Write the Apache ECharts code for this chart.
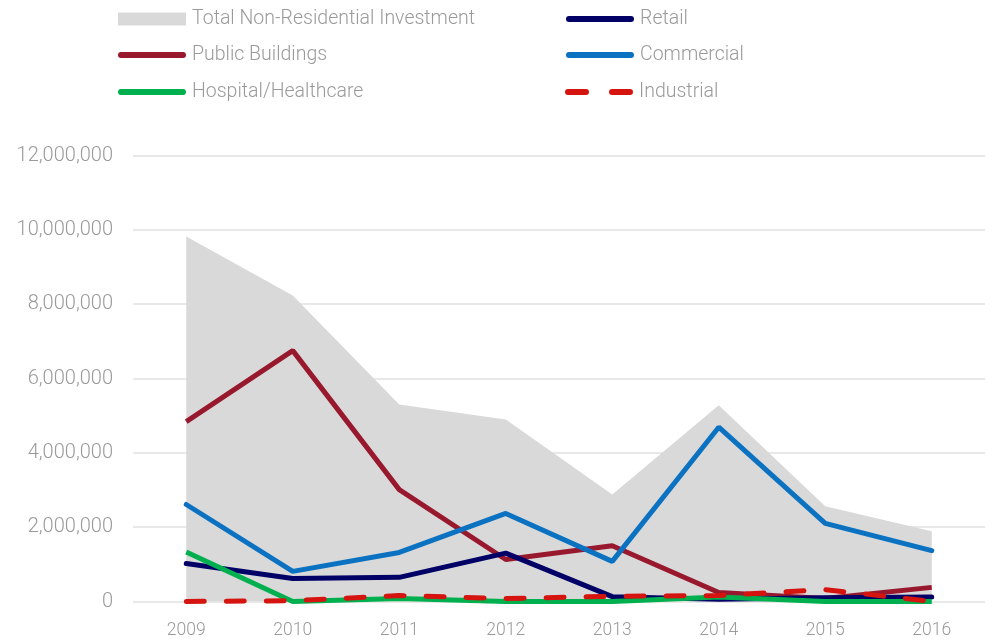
<!DOCTYPE html>
<html>
<head>
<meta charset="utf-8">
<script src="https://cdn.jsdelivr.net/npm/echarts@6/dist/echarts.min.js"></script>
<style>html,body{margin:0;padding:0;background:#fff}#c{width:993px;height:641px}</style>
</head>
<body>
<div id="c"></div>
<script>
const years = ['2009','2010','2011','2012','2013','2014','2015','2016'];
const total = [9820000, 8230000, 5300000, 4900000, 2880000, 5280000, 2560000, 1890000];
const publicBuildings = [4840000, 6750000, 3010000, 1130000, 1500000, 240000, 80000, 380000];
const commercial = [2610000, 810000, 1320000, 2370000, 1080000, 4690000, 2100000, 1370000];
const retail = [1020000, 620000, 650000, 1300000, 130000, 60000, 100000, 120000];
const hospital = [1330000, 0, 80000, 0, 0, 120000, 0, 0];
const industrial = [0, 20000, 160000, 80000, 140000, 160000, 320000, 0];
const yTicks = [0, 2000000, 4000000, 6000000, 8000000, 10000000, 12000000];

const font = 'Roboto';
const grey = '#9a9a9a';
const legendText = {color: grey, fontSize: 19.5, fontFamily: font, fontWeight: 300, padding: [0, 0, 0, 1]};
const lineIcon = 'path://M3,0 h62 a3,3 0 0 1 0,6 h-62 a3,3 0 0 1 0,-6z';
const dashIcon = 'path://M3,0 h18 a3,3 0 0 1 0,6 h-18 a3,3 0 0 1 0,-6z M47,0 h18 a3,3 0 0 1 0,6 h-18 a3,3 0 0 1 0,-6z';
function leg(name, left, top, icon, h) {
  return {data: [{name: name, icon: icon}], left: left, top: top, itemWidth: 68, itemHeight: h, itemGap: 0,
    textStyle: legendText, padding: 0, selectedMode: false};
}
const chart = echarts.init(document.getElementById('c'));
chart.setOption({
  animation: false,
  grid: {left: 133, right: 8, top: 155.5, bottom: 39.5},
  legend: [
    leg('Total Non-Residential Investment', 118, 9, 'rect', 13),
    leg('Public Buildings', 118, 45, lineIcon, 6),
    leg('Hospital/Healthcare', 118, 82, lineIcon, 6),
    leg('Retail', 566, 9, lineIcon, 6),
    leg('Commercial', 566, 45, lineIcon, 6),
    leg('Industrial', 565, 82, dashIcon, 6)
  ],
  xAxis: {
    type: 'category', data: years, boundaryGap: true,
    axisLine: {show: false}, axisTick: {show: false},
    axisLabel: {color: grey, fontSize: 17.5, fontFamily: font, fontWeight: 300, margin: 20}
  },
  yAxis: {
    type: 'value', min: 0, max: 12000000, interval: 2000000,
    axisLine: {show: false}, axisTick: {show: false},
    splitLine: {lineStyle: {color: '#e0e0e0', width: 1.5}},
    axisLabel: {color: grey, fontSize: 20, fontFamily: font, fontWeight: 300, margin: 20,
      formatter: v => yTicks.includes(v) ? v.toLocaleString('en-US') : ''}
  },
  series: [
    {name: 'Total Non-Residential Investment', type: 'line', data: total, symbol: 'none',
      lineStyle: {width: 0}, areaStyle: {color: '#d9d9d9', opacity: 1}, itemStyle: {color: '#d9d9d9'}},
    {name: 'Public Buildings', type: 'line', data: publicBuildings, symbol: 'none',
      lineStyle: {width: 5, color: '#98182d'}, itemStyle: {color: '#98182d'}},
    {name: 'Commercial', type: 'line', data: commercial, symbol: 'none',
      lineStyle: {width: 5, color: '#0b72c1', cap: 'round'}, itemStyle: {color: '#0b72c1'}},
    {name: 'Retail', type: 'line', data: retail, symbol: 'none',
      lineStyle: {width: 5, color: '#010066', cap: 'round'}, itemStyle: {color: '#010066'}},
    {name: 'Hospital/Healthcare', type: 'line', data: hospital, symbol: 'none',
      lineStyle: {width: 5, color: '#00b04f'}, itemStyle: {color: '#00b04f'}},
    {name: 'Industrial', type: 'line', data: industrial, symbol: 'none',
      lineStyle: {width: 5, color: '#d5140f', type: [18, 22], cap: 'round'}, itemStyle: {color: '#d5140f'}}
  ]
});
</script>
</body>
</html>
